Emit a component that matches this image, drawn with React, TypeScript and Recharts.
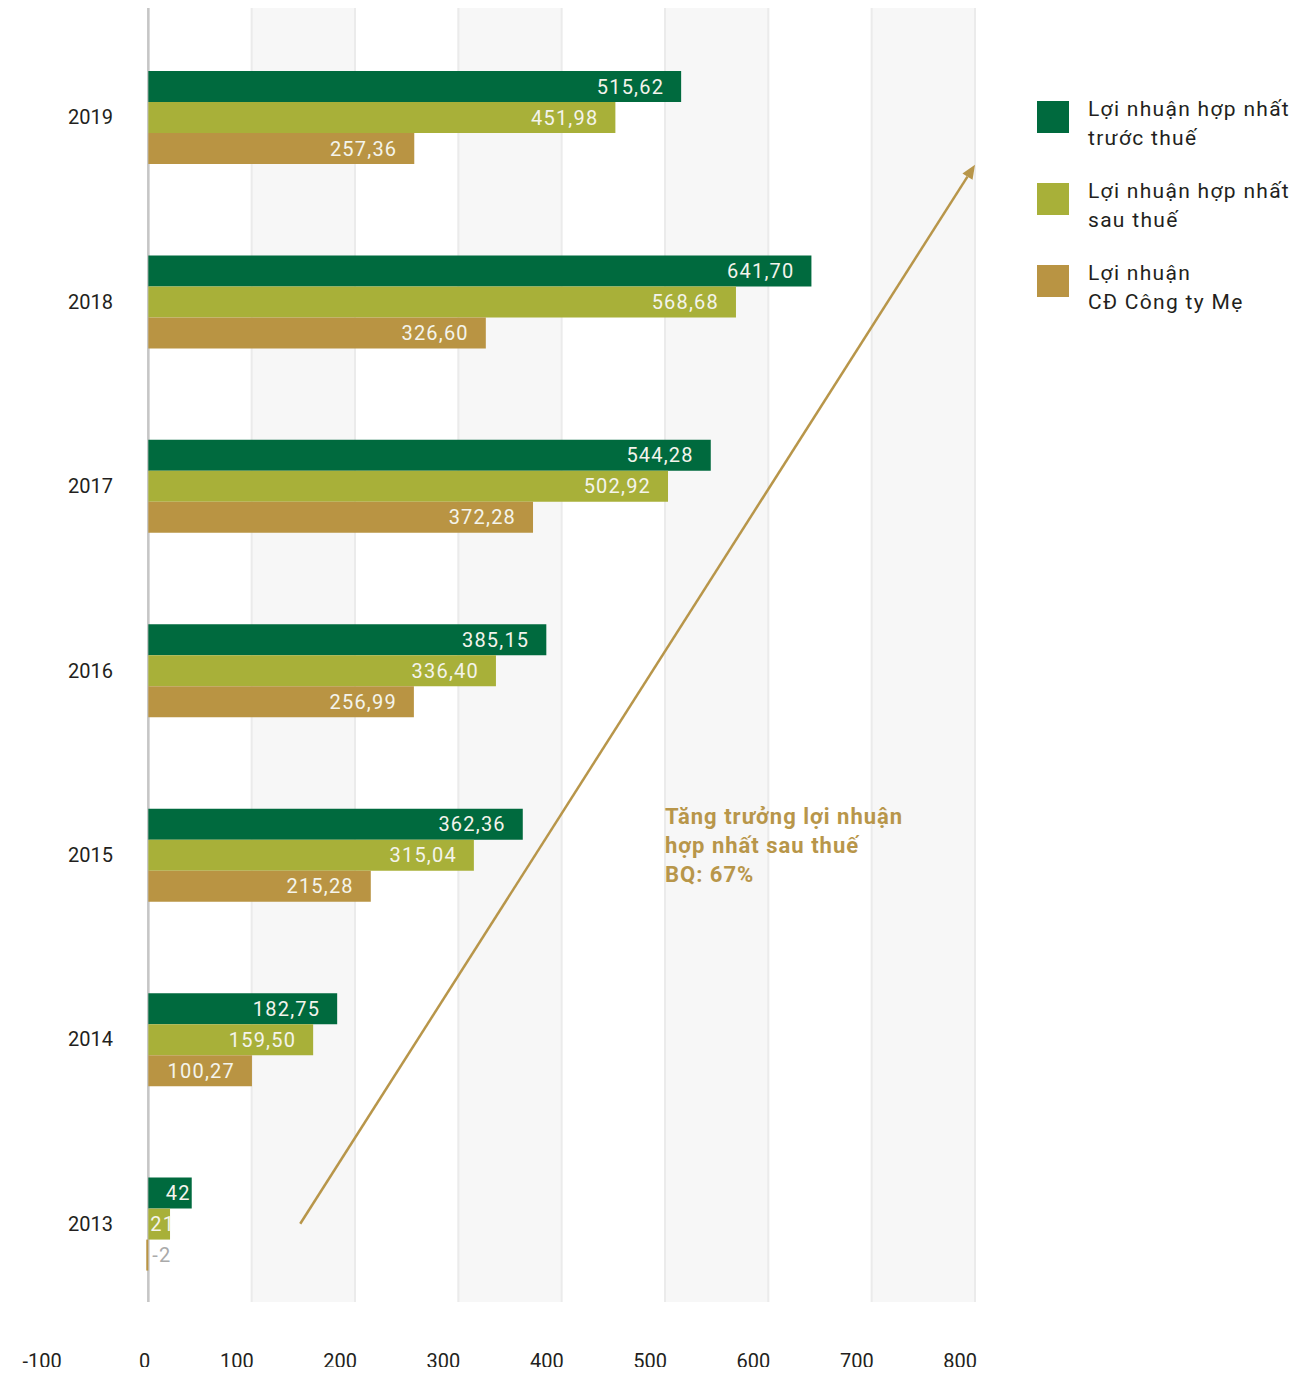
import React from 'react';
import { BarChart, Bar, XAxis, YAxis, CartesianGrid, ReferenceLine, LabelList } from 'recharts';

const YEARS = ['2019', '2018', '2017', '2016', '2015', '2014', '2013'];
const BEFORE_TAX = [515.62, 641.7, 544.28, 385.15, 362.36, 182.75, 42];
const AFTER_TAX = [451.98, 568.68, 502.92, 336.4, 315.04, 159.5, 21];
const PARENT = [257.36, 326.6, 372.28, 256.99, 215.28, 100.27, -2];
const X_DOMAIN = [-100, 800];
const X_TICKS = [-100, 0, 100, 200, 300, 400, 500, 600, 700, 800];
const GRID_LINES = [0, 100, 200, 300, 400, 500, 600, 700, 800];
const ZERO_LINE = [0];

const SERIES = [
  { key: 'before', name: ['Lợi nhuận hợp nhất', 'trước thuế'], color: '#006a3e' },
  { key: 'after', name: ['Lợi nhuận hợp nhất', 'sau thuế'], color: '#a8b039' },
  { key: 'parent', name: ['Lợi nhuận', 'CĐ Công ty Mẹ'], color: '#b99443' },
];

const GROWTH_NOTE = ['Tăng trưởng lợi nhuận', 'hợp nhất sau thuế', 'BQ: 67%'];

const data = YEARS.map((year, i) => ({
  year,
  before: BEFORE_TAX[i],
  after: AFTER_TAX[i],
  parent: PARENT[i],
}));

const FONT = 'Roboto, "Noto Sans", sans-serif';
const GOLD = '#b8964a';

const fmt = (v: number) => (Number.isInteger(v) ? String(v) : v.toFixed(2).replace('.', ','));

const BarValue = (props: any) => {
  const { x, y, width, height, value } = props;
  const cy = y + height / 2;
  if (value < 0) {
    const right = Math.max(x, x + width);
    return (
      <text x={right + 4} y={cy} dominantBaseline="central" fill="#aaaaaa" fontSize={20} fontFamily={FONT} letterSpacing={1.2}>
        {fmt(value)}
      </text>
    );
  }
  if (width < 30) {
    return (
      <text x={x + 2} y={cy} dominantBaseline="central" fill="#f4f4ec" fontSize={20} fontFamily={FONT} letterSpacing={1.2}>
        {fmt(value)}
      </text>
    );
  }
  const pad = width > 100 ? 17 : 1;
  return (
    <text x={x + width - pad} y={cy} dominantBaseline="central" textAnchor="end" fill="#f4f4ec" fontSize={20} fontFamily={FONT} letterSpacing={1.2}>
      {fmt(value)}
    </text>
  );
};

const YearTick = (props: any) => {
  const { x, y, payload } = props;
  return (
    <text x={x + 68} y={y} dominantBaseline="central" textAnchor="end" fill="#231f20" fontSize={20} fontFamily={FONT}>
      {payload.value}
    </text>
  );
};

const ValueTick = (props: any) => {
  const { x, y, payload } = props;
  const neg = payload.value < 0;
  return (
    <text x={neg ? x - 3 : x + 2} y={y} dominantBaseline="central" textAnchor={neg ? 'middle' : 'end'} fill="#231f20" fontSize={20} fontFamily={FONT}>
      {payload.value}
    </text>
  );
};

// growth arrow: from 2013 row up towards the top-right corner
const GrowthArrow = (props: any) => {
  const { x1, y1, x2, y2 } = props;
  const ex = x2;
  const ey = y2 + (y1 - y2) * 0.043;
  const ang = Math.atan2(ey - y1, ex - x1);
  const len = 14;
  const half = 6;
  const bx = ex - len * Math.cos(ang);
  const by = ey - len * Math.sin(ang);
  const px = -Math.sin(ang) * half;
  const py = Math.cos(ang) * half;
  return (
    <g>
      <line x1={x1} y1={y1} x2={bx} y2={by} stroke={GOLD} strokeWidth={2.5} />
      <polygon points={`${ex},${ey} ${bx + px},${by + py} ${bx - px},${by - py}`} fill={GOLD} />
    </g>
  );
};

// grid line positions for the given values, so the grid stays underneath the bars
const gridAt = (values: number[]) => ({ xAxis, offset }: any) => {
  if (xAxis && typeof xAxis.scale === 'function') return values.map((v) => xAxis.scale(v));
  const [lo, hi] = X_DOMAIN;
  return values.map((v) => offset.left + ((v - lo) / (hi - lo)) * offset.width);
};

export default function App() {
  return (
    <div style={{ position: 'relative', width: 1289, height: 1359, fontFamily: FONT }}>
      <BarChart
        width={1289}
        height={1367}
        data={data}
        layout="vertical"
        margin={{ top: 0, right: 322, bottom: 0, left: 0 }}
        barSize={31}
        barGap={0}
      >
        <CartesianGrid
          horizontal={false}
          vertical
          stroke="#ebebeb"
          strokeWidth={2}
          verticalCoordinatesGenerator={gridAt(GRID_LINES)}
          verticalFill={['none', 'none', '#f7f7f7', 'none', '#f7f7f7', 'none', '#f7f7f7', 'none', '#f7f7f7']}
        />
        <CartesianGrid
          horizontal={false}
          vertical
          stroke="#c6c6c6"
          strokeWidth={2.5}
          verticalCoordinatesGenerator={gridAt(ZERO_LINE)}
        />
        <XAxis
          type="number"
          domain={X_DOMAIN}
          ticks={X_TICKS}
          interval={0}
          axisLine={false}
          tickLine={false}
          tickSize={0}
          tickMargin={59}
          height={73}
          tick={<ValueTick />}
        />
        <YAxis
          type="category"
          dataKey="year"
          width={37}
          axisLine={false}
          tickLine={false}
          tickSize={0}
          tickMargin={0}
          padding={{ top: 17, bottom: -14 }}
          tick={<YearTick />}
        />
        {SERIES.map((s) => (
          <Bar key={s.key} dataKey={s.key} fill={s.color} isAnimationActive={false}>
            <LabelList dataKey={s.key} content={<BarValue />} />
          </Bar>
        ))}
        <ReferenceLine
          segment={[
            { x: 147, y: '2013' },
            { x: 800, y: '2019' },
          ]}
          shape={<GrowthArrow />}
        />
      </BarChart>

      <div style={{ position: 'absolute', left: 657, top: 794, color: GOLD, fontWeight: 700, fontSize: 22, lineHeight: '29px', letterSpacing: 1 }}>
        {GROWTH_NOTE.map((t) => (
          <div key={t}>{t}</div>
        ))}
      </div>

      <div style={{ position: 'absolute', left: 1029, top: 93 }}>
        {SERIES.map((s) => (
          <div key={s.key} style={{ display: 'flex', alignItems: 'flex-start', height: 82 }}>
            <div style={{ width: 32, height: 32, background: s.color, marginRight: 19 }} />
            <div style={{ fontSize: 21, lineHeight: '29px', color: '#231f20', marginTop: -6, letterSpacing: 1.3, whiteSpace: 'nowrap' }}>
              {s.name.map((n) => (
                <div key={n}>{n}</div>
              ))}
            </div>
          </div>
        ))}
      </div>
    </div>
  );
}
